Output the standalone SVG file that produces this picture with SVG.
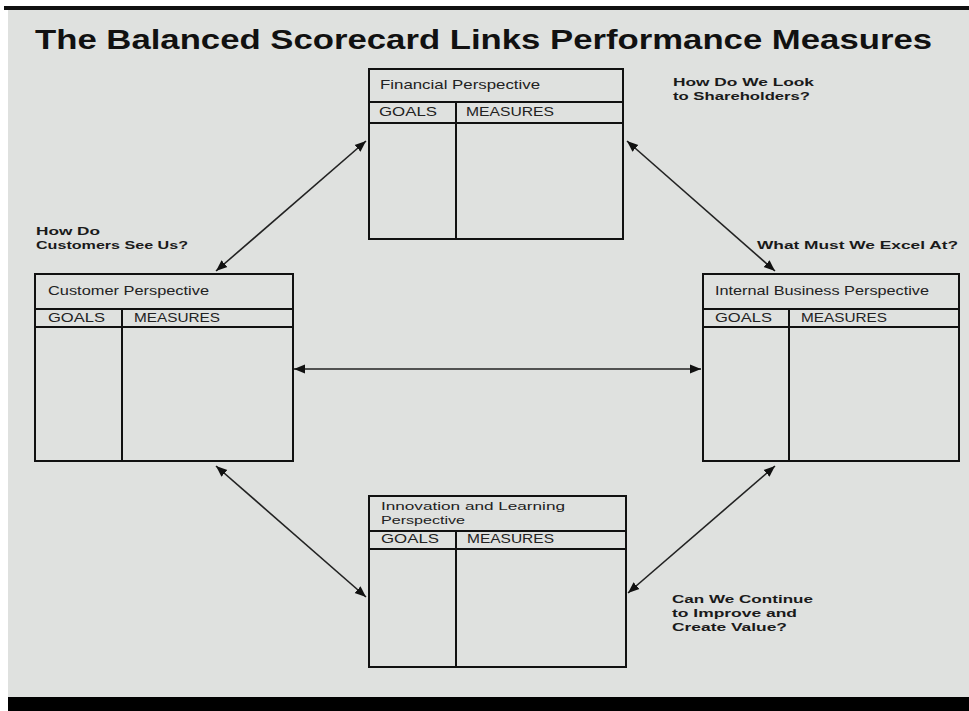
<svg xmlns="http://www.w3.org/2000/svg" width="969" height="711" viewBox="0 0 969 711">
<defs>
<style>
.box{fill:none;stroke:#111;stroke-width:2}
.ln{stroke:#111;stroke-width:2}
.lbl{font-family:"Liberation Sans",Arial,sans-serif;font-size:13px;fill:#222}
.lbl2{font-family:"Liberation Sans",Arial,sans-serif;font-size:11.5px;fill:#222}
.q{font-family:"Liberation Sans",Arial,sans-serif;font-size:11.5px;font-weight:bold;fill:#1a1a1a}
.title{font-family:"Liberation Sans",Arial,sans-serif;font-size:27px;font-weight:bold;fill:#111}
.arr{stroke:#222;stroke-width:1.6;fill:none;marker-start:url(#ah);marker-end:url(#ah)}
</style>
<marker id="ah" viewBox="0 0 10 10" refX="10" refY="5" markerWidth="7" markerHeight="7" markerUnits="strokeWidth" orient="auto-start-reverse">
<path d="M0,1 L10,5 L0,9 z" fill="#111"/>
</marker>
</defs>
<rect x="0" y="0" width="969" height="711" fill="#ffffff"/>
<rect x="8" y="8" width="961" height="690" fill="#dfe1df"/>
<rect x="4" y="6" width="965" height="4" fill="#111"/>
<rect x="8" y="697" width="961" height="14" fill="#000"/>
<text class="title" x="35" y="49" textLength="897" lengthAdjust="spacingAndGlyphs">The Balanced Scorecard Links Performance Measures</text>

<g id="connectors">
<line class="arr" x1="366" y1="141" x2="216" y2="271"/>
<line class="arr" x1="627" y1="141" x2="775" y2="271"/>
<line class="arr" x1="294" y1="369" x2="701" y2="369"/>
<line class="arr" x1="216" y1="466" x2="366" y2="597"/>
<line class="arr" x1="775" y1="466" x2="628" y2="593"/>
</g>

<g id="financial">
<rect class="box" x="369" y="69" width="254" height="170"/>
<line class="ln" x1="369" y1="102" x2="623" y2="102"/>
<line class="ln" x1="369" y1="123" x2="623" y2="123"/>
<line class="ln" x1="456" y1="102" x2="456" y2="239"/>
<text class="lbl" x="380" y="89" textLength="160" lengthAdjust="spacingAndGlyphs">Financial Perspective</text>
<text class="lbl" x="379" y="116" textLength="58" lengthAdjust="spacingAndGlyphs">GOALS</text>
<text class="lbl" x="466" y="116" textLength="88" lengthAdjust="spacingAndGlyphs">MEASURES</text>
</g>

<g id="customer">
<rect class="box" x="35" y="274" width="258" height="187"/>
<line class="ln" x1="35" y1="309" x2="293" y2="309"/>
<line class="ln" x1="35" y1="327" x2="293" y2="327"/>
<line class="ln" x1="122" y1="309" x2="122" y2="461"/>
<text class="lbl" x="48" y="295" textLength="161" lengthAdjust="spacingAndGlyphs">Customer Perspective</text>
<text class="lbl" x="48" y="322" textLength="57" lengthAdjust="spacingAndGlyphs">GOALS</text>
<text class="lbl" x="134" y="322" textLength="86" lengthAdjust="spacingAndGlyphs">MEASURES</text>
</g>

<g id="internal">
<rect class="box" x="703" y="274" width="256" height="187"/>
<line class="ln" x1="703" y1="309" x2="959" y2="309"/>
<line class="ln" x1="703" y1="327" x2="959" y2="327"/>
<line class="ln" x1="789" y1="309" x2="789" y2="461"/>
<text class="lbl" x="715" y="295" textLength="214" lengthAdjust="spacingAndGlyphs">Internal Business Perspective</text>
<text class="lbl" x="715" y="322" textLength="57" lengthAdjust="spacingAndGlyphs">GOALS</text>
<text class="lbl" x="801" y="322" textLength="86" lengthAdjust="spacingAndGlyphs">MEASURES</text>
</g>

<g id="innovation">
<rect class="box" x="369" y="496" width="257" height="171"/>
<line class="ln" x1="369" y1="531" x2="626" y2="531"/>
<line class="ln" x1="369" y1="549" x2="626" y2="549"/>
<line class="ln" x1="456" y1="531" x2="456" y2="667"/>
<text class="lbl2" x="381" y="510" textLength="184" lengthAdjust="spacingAndGlyphs">Innovation and Learning</text>
<text class="lbl2" x="381" y="524" textLength="84" lengthAdjust="spacingAndGlyphs">Perspective</text>
<text class="lbl" x="381" y="543" textLength="58" lengthAdjust="spacingAndGlyphs">GOALS</text>
<text class="lbl" x="467" y="543" textLength="87" lengthAdjust="spacingAndGlyphs">MEASURES</text>
</g>

<g id="questions">
<text class="q" x="673" y="86" textLength="141" lengthAdjust="spacingAndGlyphs">How Do We Look</text>
<text class="q" x="673" y="100" textLength="137" lengthAdjust="spacingAndGlyphs">to Shareholders?</text>
<text class="q" x="36" y="235" textLength="64" lengthAdjust="spacingAndGlyphs">How Do</text>
<text class="q" x="36" y="249" textLength="152" lengthAdjust="spacingAndGlyphs">Customers See Us?</text>
<text class="q" x="757" y="249" textLength="201" lengthAdjust="spacingAndGlyphs">What Must We Excel At?</text>
<text class="q" x="672" y="603" textLength="141" lengthAdjust="spacingAndGlyphs">Can We Continue</text>
<text class="q" x="672" y="617" textLength="125" lengthAdjust="spacingAndGlyphs">to Improve and</text>
<text class="q" x="672" y="631" textLength="115" lengthAdjust="spacingAndGlyphs">Create Value?</text>
</g>
</svg>
